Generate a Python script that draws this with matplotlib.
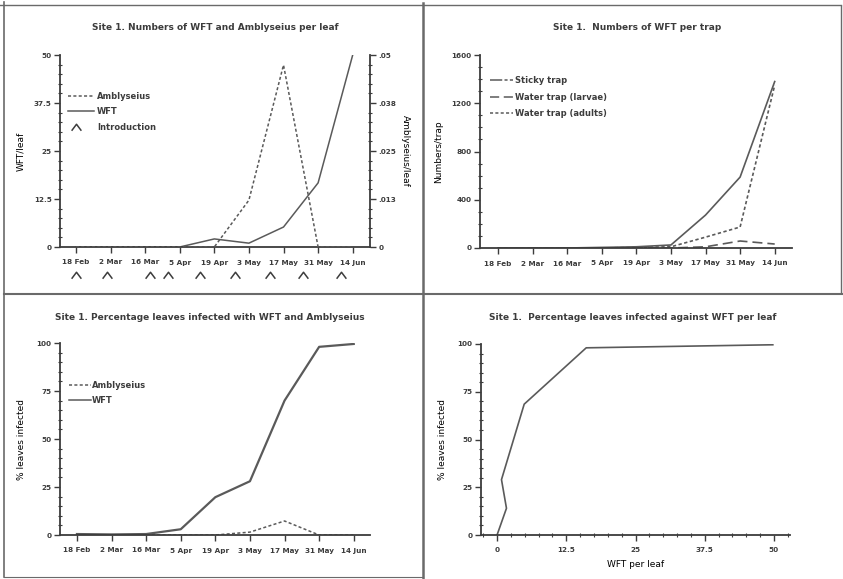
import matplotlib.pyplot as plt
from matplotlib.lines import Line2D
from matplotlib.path import Path
from matplotlib.ticker import AutoMinorLocator

# sampling dates (fortnightly)
dates = ['18 Feb', '2 Mar', '16 Mar', '5 Apr', '19 Apr', '3 May', '17 May', '31 May', '14 Jun']

# WFT and Amblyseius per leaf
wft_leaf = [0, 0, 0, 0, 2.1, 1.0, 5.2, 16.7, 50.0]
amb_leaf = [0, 0, 0, 0, 0, 0.0122, 0.0474, 0, 0]
# Amblyseius introductions, in sampling-interval units from 18 Feb
intro_pos = [0, 0.9, 2.15, 2.65, 3.6, 4.6, 5.6, 6.55, 7.65]

# WFT per trap
trap_sticky = [0, 0, 0, 5, 10, 25, 273, 588, 1380]
trap_larvae = [0, 0, 0, 0, 0, 0, 10, 58, 33]
trap_adults = [0, 0, 0, 0, 5, 10, 90, 174, 1350]

# % leaves infected
pct_wft = [0.5, 0.3, 0.5, 3, 19.7, 28, 70, 98, 99.5]
pct_amb = [0, 0, 0, 0, 0, 1.5, 7.3, 0, 0]

# % leaves infected against WFT per leaf
wft_x = [0, 1.7, 0.8, 4.9, 16.1, 49.8]
wft_pct = [0, 14, 29, 68.5, 98, 99.6]

INK = '#3c3c3c'
LINE = '#5a5a5a'
# open caret used to mark introductions
CARET = Path([(-1.2, -0.8), (0, 0.8), (1.2, -0.8)], [Path.MOVETO, Path.LINETO, Path.LINETO])
plt.rcParams['font.family'] = ['DejaVu Sans']
plt.rcParams['font.weight'] = 'bold'
plt.rcParams['text.color'] = INK
plt.rcParams['axes.edgecolor'] = INK
plt.rcParams['xtick.color'] = INK
plt.rcParams['ytick.color'] = INK

W, H = 843, 579
fig = plt.figure(figsize=(W / 100, H / 100), dpi=100)


def px_axes(x0, y_top, x1, y_bot):
    return fig.add_axes([x0 / W, 1 - y_bot / H, (x1 - x0) / W, (y_bot - y_top) / H])


def style(ax):
    for s in ['top', 'right']:
        ax.spines[s].set_visible(False)
    for s in ['left', 'bottom']:
        ax.spines[s].set_linewidth(1.3)
    ax.tick_params(labelsize=5.2, width=1, length=4, pad=2)
    ax.tick_params(axis='y', which='minor', length=2.5, width=0.8, direction='inout')


def date_axis(ax):
    ax.set_xticks(range(len(dates)))
    ax.set_xticklabels(dates)
    ax.tick_params(axis='x', pad=5)


def carets(ax, xs, ys, transform):
    ax.plot(xs, ys, transform=transform, marker=CARET, markersize=7,
            markerfacecolor='none', markeredgecolor=INK, markeredgewidth=1.1,
            linestyle='none', clip_on=False)


def legend(ax, entries, x0, x1, xt, ys):
    for (kind, label), y in zip(entries, ys):
        if kind == 'caret':
            carets(ax, [x0 + 0.025], [y], ax.transAxes)
        else:
            ax.plot([x0, x1], [y, y], transform=ax.transAxes, color=LINE,
                    lw=1.1, linestyle=kind, clip_on=False)
        ax.text(xt, y, label, transform=ax.transAxes, fontsize=6,
                va='center', ha='left')


# --- top left: WFT and Amblyseius per leaf
ax1 = px_axes(60, 55, 370, 247)
style(ax1)
date_axis(ax1)
ax1.plot(range(len(dates)), wft_leaf, color=LINE, lw=1.1)
ax1.set_xlim(-0.46, 8.5)
ax1.set_ylim(0, 50)
ax1.set_yticks([0, 12.5, 25, 37.5, 50])
ax1.set_yticklabels(['0', '12.5', '25', '37.5', '50'])
ax1.yaxis.set_minor_locator(AutoMinorLocator(5))
ax1.set_ylabel('WFT/leaf', fontsize=6.5, labelpad=6)
ax1r = ax1.twinx()
ax1r.set_position(ax1.get_position())
for s in ['top', 'left', 'bottom']:
    ax1r.spines[s].set_visible(False)
ax1r.spines['right'].set_linewidth(1.3)
ax1r.plot(range(len(dates)), amb_leaf, color=LINE, lw=1.1, linestyle=(0, (2, 1.5)))
ax1r.set_ylim(0, 0.05)
ax1r.set_yticks([0, 0.0125, 0.025, 0.0375, 0.05])
ax1r.set_yticklabels(['0', '.013', '.025', '.038', '.05'])
ax1r.yaxis.set_minor_locator(AutoMinorLocator(5))
ax1r.tick_params(labelsize=5.2, width=1, length=4, pad=2)
ax1r.tick_params(axis='y', which='minor', length=2.5, width=0.8, direction='inout')
ax1r.set_ylabel('Amblyseius/leaf', fontsize=6.5, rotation=270, labelpad=10)
# introduction dates marked under the date axis
carets(ax1, intro_pos, [-0.145] * len(intro_pos), ax1.get_xaxis_transform())
legend(ax1, [((0, (2, 1.5)), 'Amblyseius'), ('-', 'WFT'), ('caret', 'Introduction')],
       0.026, 0.11, 0.119, [0.786, 0.708, 0.625])
fig.text(215 / W, 1 - 28 / H, 'Site 1. Numbers of WFT and Amblyseius per leaf',
         fontsize=6.5, ha='center', va='center')

# --- top right: WFT per trap
ax2 = px_axes(480, 55, 792, 248)
style(ax2)
date_axis(ax2)
ax2.plot(range(len(dates)), trap_sticky, color=LINE, lw=1.2)
ax2.plot(range(len(dates)), trap_larvae, color=LINE, lw=1.2, linestyle=(0, (6, 3)))
ax2.plot(range(len(dates)), trap_adults, color=LINE, lw=1.2, linestyle=(0, (2, 1.5)))
ax2.set_xlim(-0.52, 8.5)
ax2.set_ylim(0, 1600)
ax2.set_yticks([0, 400, 800, 1200, 1600])
ax2.yaxis.set_minor_locator(AutoMinorLocator(4))
ax2.set_ylabel('Numbers/trap', fontsize=6.5, labelpad=6)
legend(ax2, [((0, (8, 1.5, 2, 1.5)), 'Sticky trap'), ((0, (6, 3)), 'Water trap (larvae)'),
             ((0, (2, 1.5)), 'Water trap (adults)')],
       0.032, 0.106, 0.112, [0.870, 0.782, 0.699])
fig.text(637 / W, 1 - 28 / H, 'Site 1.  Numbers of WFT per trap',
         fontsize=6.5, ha='center', va='center')

# --- bottom left: % leaves infected over time
ax3 = px_axes(60, 343, 370, 535)
style(ax3)
date_axis(ax3)
ax3.plot(range(len(dates)), pct_wft, color=LINE, lw=1.6)
ax3.plot(range(len(dates)), pct_amb, color=LINE, lw=1.1, linestyle=(0, (2, 1.5)))
ax3.set_xlim(-0.49, 8.47)
ax3.set_ylim(0, 100)
ax3.set_yticks([0, 25, 50, 75, 100])
ax3.yaxis.set_minor_locator(AutoMinorLocator(5))
ax3.set_ylabel('% leaves infected', fontsize=6.5, labelpad=8)
legend(ax3, [((0, (2, 1.5)), 'Amblyseius'), ('-', 'WFT')],
       0.029, 0.1, 0.103, [0.781, 0.703])
fig.text(210 / W, 1 - 318 / H, 'Site 1. Percentage leaves infected with WFT and Amblyseius',
         fontsize=6.5, ha='center', va='center')

# --- bottom right: % leaves infected against WFT per leaf
ax4 = px_axes(481, 344, 790, 535)
style(ax4)
ax4.plot(wft_x, wft_pct, color=LINE, lw=1.2)
ax4.set_xlim(-2.9, 52.9)
ax4.set_ylim(0, 100)
ax4.set_xticks([0, 12.5, 25, 37.5, 50])
ax4.set_xticklabels(['0', '12.5', '25', '37.5', '50'])
ax4.set_yticks([0, 25, 50, 75, 100])
ax4.xaxis.set_minor_locator(AutoMinorLocator(5))
ax4.yaxis.set_minor_locator(AutoMinorLocator(5))
ax4.tick_params(axis='x', which='minor', length=2.5, width=0.8, direction='inout')
ax4.tick_params(axis='x', pad=5)
ax4.set_ylabel('% leaves infected', fontsize=6.5, labelpad=8)
ax4.set_xlabel('WFT per leaf', fontsize=6.5, labelpad=5)
fig.text(633 / W, 1 - 317 / H, 'Site 1.  Percentage leaves infected against WFT per leaf',
         fontsize=6.5, ha='center', va='center')

# page frame and quadrant dividers
frame = [([4, 4], [2, 577], 1.2), ([423, 423], [3, 579], 1.8),
         ([4, 843], [294, 294], 1.5), ([0, 841], [5, 5], 1.0),
         ([841, 841], [6, 292], 1.0), ([4, 423], [577, 577], 0.8)]
for xs, ys, lw in frame:
    fig.add_artist(Line2D([x / W for x in xs], [1 - y / H for y in ys],
                          color='#6a6a6a', lw=lw))

fig.savefig('out.png', dpi=100)
